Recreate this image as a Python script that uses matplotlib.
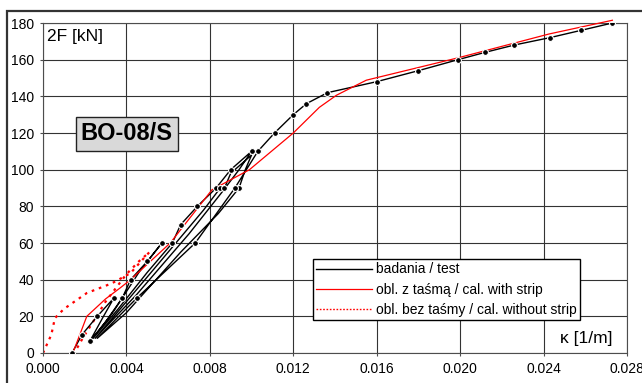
import matplotlib
matplotlib.use("Agg")
import matplotlib.pyplot as plt
from matplotlib.patches import Rectangle
from matplotlib.lines import Line2D

plt.rcParams['font.family'] = ['Liberation Sans', 'DejaVu Sans']

# ---- data ----
# test (badania) hysteresis path
test_k = [0.00139, 0.00187, 0.0026, 0.0034,
          0.0029, 0.00225,
          0.0030, 0.0038, 0.0042, 0.0050, 0.0057,
          0.0046, 0.0034, 0.0024,
          0.0036, 0.0050, 0.0062, 0.0066, 0.0074, 0.0083, 0.0090, 0.0100,
          0.0094, 0.0086, 0.0070, 0.0045, 0.0025,
          0.0040, 0.0060, 0.0077, 0.0085, 0.0087, 0.0090, 0.0100,
          0.0097, 0.0094, 0.0084, 0.0066, 0.0040, 0.0026,
          0.0045, 0.0073, 0.0092, 0.0103, 0.0111, 0.0120, 0.01263, 0.01364,
          0.0160, 0.0180, 0.0199, 0.0212, 0.0226, 0.0243, 0.0258, 0.0273]
test_F = [0, 10, 20, 30,
          20, 6.5,
          17, 30, 40, 50, 60,
          44, 23, 8,
          24, 44, 60, 70, 80, 90, 100, 110,
          100, 88, 65, 32, 8,
          28, 55, 78, 90, 90, 98, 108,
          100, 90, 76, 55, 22, 8,
          30, 60, 90, 110, 120, 130, 136, 142,
          148, 154, 160, 164, 168, 172, 176, 180]
test_mark = [1, 1, 1, 1,
             0, 1,
             0, 1, 1, 1, 1,
             0, 0, 0,
             0, 0, 1, 1, 1, 1, 1, 1,
             0, 0, 0, 0, 0,
             0, 0, 0, 1, 1, 0, 0,
             0, 1, 0, 0, 0, 0,
             1, 1, 1, 1, 1, 1, 1, 1,
             1, 1, 1, 1, 1, 1, 1, 1]

# calculation with strip
strip_k = [0.00143, 0.0021, 0.0030, 0.0037, 0.0042, 0.0061, 0.0081, 0.0099,
           0.0120, 0.01325, 0.01407, 0.0155, 0.0199, 0.02426, 0.0273]
strip_F = [0, 20, 29.5, 35.5, 40, 60, 89, 100, 120, 134, 140.6, 148.8, 161, 174, 181.5]

# calculation without strip
nostrip_k = [0.0, 0.0004, 0.00057, 0.0010, 0.0021, 0.0033, 0.0042, 0.0047, 0.0051,
             0.0046, 0.0040, 0.0030, 0.0024, 0.0019, 0.0015]
nostrip_F = [0, 10, 19, 24, 32.7, 38, 43.6, 50, 55,
             50, 43, 28, 17, 8, 0]

x_ticks = [0.000, 0.004, 0.008, 0.012, 0.016, 0.020, 0.024, 0.028]
y_ticks = [0, 20, 40, 60, 80, 100, 120, 140, 160, 180]

# ---- figure ----
W, H = 642, 383
fig = plt.figure(figsize=(W / 100, H / 100), dpi=100)
ax = fig.add_axes([43 / W, 1 - 353 / H, (627 - 43) / W, (353 - 23) / H])

# outer frame
fig.patches.append(Rectangle((7 / W, -0.05), 1.1, 1 - 11 / H + 0.05, transform=fig.transFigure,
                             fill=False, edgecolor='#333333', linewidth=1.6, zorder=0))

ax.set_xlim(0, 0.028)
ax.set_ylim(0, 180)
ax.set_xticks(x_ticks)
ax.set_yticks(y_ticks)
ax.set_xticklabels([f"{v:.3f}" for v in x_ticks])
ax.set_yticklabels([str(v) for v in y_ticks])
ax.tick_params(direction='out', length=2.5, width=0.8, color='0.3', labelsize=10, pad=4)
ax.grid(True, color='0.2', linewidth=0.8)
ax.set_axisbelow(True)
for s in ax.spines.values():
    s.set_color('0.3')
    s.set_linewidth(0.8)

# red dotted (below others)
ax.plot(nostrip_k, nostrip_F, color='#ff0000', linewidth=1.6, linestyle=(0, (1.2, 2.2)),
        zorder=2.5)

# test curve
ax.plot(test_k, test_F, color='black', linewidth=1.0, zorder=3)
mk = [k for k, m in zip(test_k, test_mark) if m]
mf = [f for f, m in zip(test_F, test_mark) if m]
ax.plot(mk, mf, linestyle='none', marker='o', markersize=4.2, markerfacecolor='black',
        markeredgecolor='white', markeredgewidth=0.8, zorder=4)

ax.plot(strip_k, strip_F, color='#ff0000', linewidth=0.9, zorder=3, clip_on=False)

handles = [Line2D([], [], color='black', linewidth=1.0),
           Line2D([], [], color='#ff0000', linewidth=0.9),
           Line2D([], [], color='#ff0000', linewidth=1.0, linestyle=(0, (1.2, 1.2)))]
labels = ['badania / test', 'obl. z taśmą / cal. with strip', 'obl. bez taśmy / cal. without strip']
leg = ax.legend(handles, labels, loc='upper left',
                bbox_to_anchor=((313 - 43) / (627 - 43), 1 - (259 - 23) / 330),
                frameon=True, fancybox=False, fontsize=10, handlelength=4.0,
                handletextpad=0.3, labelspacing=0.45, borderpad=0.25, borderaxespad=0)
leg.get_frame().set_edgecolor('black')
leg.get_frame().set_linewidth(1.0)
leg.get_frame().set_alpha(1)
leg.set_zorder(6)

ax.text(0.0002, 177, '2F [kN]', fontsize=12.5, ha='left', va='top', zorder=5)
ax.text(0.0273, 4, 'κ [1/m]', fontsize=12.5, ha='right', va='bottom', zorder=5)
ax.text(0.00402, 119.5, 'BO-08/S', fontsize=17, fontweight='bold', ha='center', va='center', zorder=5,
        bbox=dict(boxstyle='square,pad=0.22', facecolor='#d9d9d9', edgecolor='#222222', linewidth=1.0))

fig.savefig('out.png', dpi=100)
